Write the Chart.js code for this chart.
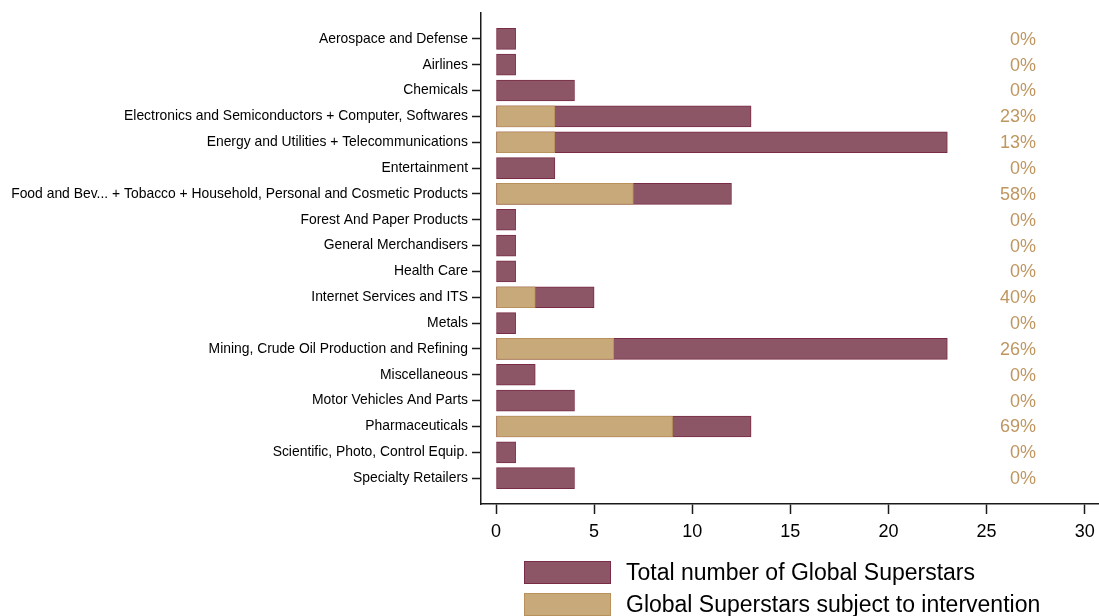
<!DOCTYPE html>
<html>
<head>
<meta charset="utf-8">
<script src="https://cdn.jsdelivr.net/npm/chart.js@4/dist/chart.umd.min.js"></script>
<style>
  html, body { margin: 0; padding: 0; background: #ffffff; }
  #wrap { position: relative; width: 1099px; height: 616px; }
  canvas { display: block; }
</style>
</head>
<body>
<div id="wrap"><canvas id="c" width="1099" height="616"></canvas></div>
<script>
// Industries (top to bottom)
const industries = [
  'Aerospace and Defense',
  'Airlines',
  'Chemicals',
  'Electronics and Semiconductors + Computer, Softwares',
  'Energy and Utilities + Telecommunications',
  'Entertainment',
  'Food and Bev... + Tobacco + Household, Personal and Cosmetic Products',
  'Forest And Paper Products',
  'General Merchandisers',
  'Health Care',
  'Internet Services and ITS',
  'Metals',
  'Mining, Crude Oil Production and Refining',
  'Miscellaneous',
  'Motor Vehicles And Parts',
  'Pharmaceuticals',
  'Scientific, Photo, Control Equip.',
  'Specialty Retailers'
];

// Total number of Global Superstars per industry
const totalSuperstars = [1, 1, 4, 13, 23, 3, 12, 1, 1, 1, 5, 1, 23, 2, 4, 13, 1, 4];

// Global Superstars subject to intervention per industry
const interventionSuperstars = [0, 0, 0, 3, 3, 0, 7, 0, 0, 0, 2, 0, 6, 0, 0, 9, 0, 0];

// x-axis tick values
const xTicks = [0, 5, 10, 15, 20, 25, 30];

const MAROON = '#8d5667';
const MAROON_EDGE = '#7a2c46';
const TAN = '#c7a97a';
const TAN_EDGE = '#b8915b';
const PCT_COLOR = '#bf9660';

// Blank slots above and below the industries give the category axis its margins
const labels = [''].concat(industries, ['']);
const pad = arr => [null].concat(arr, [null]);

// Share of each industry's superstars subject to intervention, printed at right
const shareLabels = {
  id: 'shareLabels',
  afterDatasetsDraw(chart) {
    const ctx = chart.ctx;
    const y = chart.scales.y;
    ctx.save();
    ctx.font = '18px "Liberation Sans", Arial, sans-serif';
    ctx.fillStyle = PCT_COLOR;
    ctx.textAlign = 'right';
    ctx.textBaseline = 'middle';
    industries.forEach((name, i) => {
      const pct = Math.round(interventionSuperstars[i] / totalSuperstars[i] * 100);
      ctx.fillText(pct + '%', 1036, y.getPixelForValue(i + 1) + 1);
    });
    ctx.restore();
  }
};

// Two-row legend under the x axis
const bottomLegend = {
  id: 'bottomLegend',
  afterDraw(chart) {
    const ctx = chart.ctx;
    const items = [
      { text: chart.data.datasets[0].label, fill: MAROON, edge: MAROON_EDGE },
      { text: chart.data.datasets[1].label, fill: TAN, edge: TAN_EDGE }
    ];
    ctx.save();
    ctx.font = '23px "Liberation Sans", Arial, sans-serif';
    ctx.textBaseline = 'middle';
    items.forEach((it, k) => {
      const top = 561 + k * 32;
      ctx.fillStyle = it.fill;
      ctx.fillRect(524.5, top, 86, 23);
      ctx.strokeStyle = it.edge;
      ctx.lineWidth = 1;
      ctx.strokeRect(524.5, top + 0.5, 86, 22);
      ctx.fillStyle = '#000000';
      ctx.textAlign = 'left';
      ctx.fillText(it.text, 626, top + 13);
    });
    ctx.restore();
  }
};

new Chart(document.getElementById('c'), {
  type: 'bar',
  data: {
    labels: labels,
    datasets: [
      {
        label: 'Total number of Global Superstars',
        data: pad(totalSuperstars),
        backgroundColor: MAROON,
        borderColor: MAROON_EDGE,
        borderWidth: 1,
        borderSkipped: false,
        order: 1
      },
      {
        label: 'Global Superstars subject to intervention',
        data: pad(interventionSuperstars),
        backgroundColor: TAN,
        borderColor: TAN_EDGE,
        borderWidth: 1,
        borderSkipped: false,
        order: 0
      }
    ]
  },
  options: {
    indexAxis: 'y',
    responsive: false,
    animation: false,
    grouped: false,
    barThickness: 21,
    layout: { padding: { top: 13, right: 0, left: 0, bottom: 0 } },
    plugins: {
      legend: { display: false },
      tooltip: { enabled: false }
    },
    scales: {
      y: {
        type: 'category',
        offset: false,
        afterFit(scale) { scale.width = 481; },
        border: { display: true, color: '#1a1a1a', width: 1.5 },
        grid: {
          display: true,
          offset: false,
          drawOnChartArea: false,
          drawTicks: true,
          tickLength: 9,
          tickWidth: 1.5,
          tickColor: c => (c.index === 0 || c.index === labels.length - 1) ? 'rgba(0,0,0,0)' : '#1a1a1a'
        },
        ticks: {
          autoSkip: false,
          padding: 4,
          color: '#000000',
          font: { family: '"Liberation Sans", Arial, sans-serif', size: 13.9 }
        }
      },
      x: {
        type: 'linear',
        min: -0.765,
        max: 30.73,
        afterFit(scale) {
          scale.height = 112;
          scale.paddingRight = 0;
        },
        afterBuildTicks(scale) { scale.ticks = xTicks.map(v => ({ value: v })); },
        border: { display: true, color: '#1a1a1a', width: 1.5 },
        grid: {
          display: true,
          drawOnChartArea: false,
          drawTicks: true,
          tickLength: 10,
          tickWidth: 1.5,
          tickColor: '#1a1a1a'
        },
        ticks: {
          padding: 7,
          color: '#000000',
          maxRotation: 0,
          font: { family: '"Liberation Sans", Arial, sans-serif', size: 18 }
        }
      }
    }
  },
  plugins: [shareLabels, bottomLegend]
});
</script>
</body>
</html>
